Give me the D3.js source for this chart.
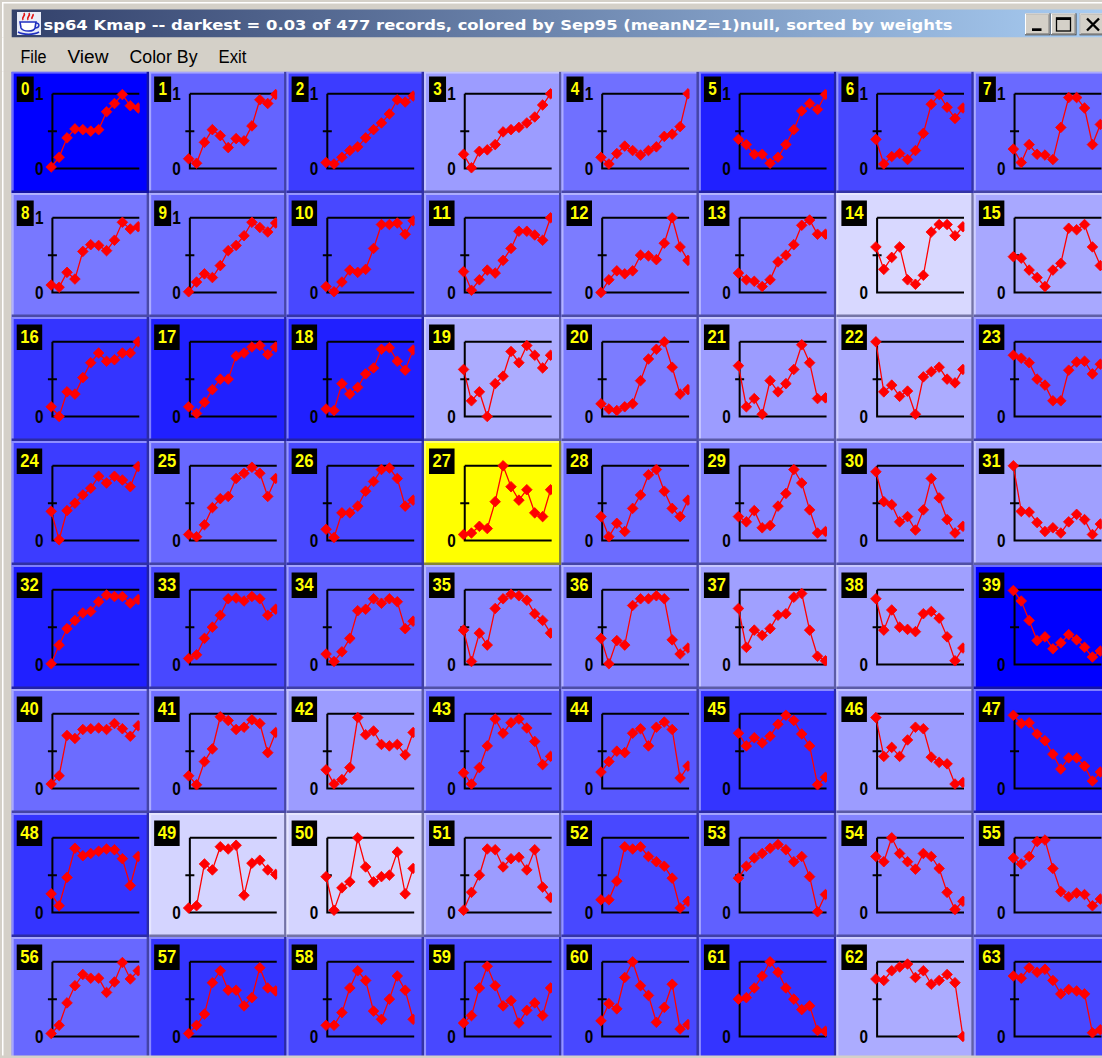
<!DOCTYPE html>
<html><head><meta charset="utf-8">
<script src="https://cdn.jsdelivr.net/npm/d3@7"></script>
<style>html,body{margin:0;padding:0;background:#d4d0c8;overflow:hidden}</style>
</head><body><svg id="c" width="1102" height="1058"></svg>
<script>
// ---------------- data ----------------
const titleText = "sp64 Kmap -- darkest = 0.03 of 477 records, colored by Sep95 (meanNZ=1)null, sorted by weights";
const menuItems = ["File", "View", "Color By", "Exit"];
const months = d3.range(12);            // x categories (12 periods)
const yTickLabels = ["0", "1"];
const yTickValues = [0, 1];
const yMidTick = 0.5;
const selectedCell = 27;
// tint of each cell background (0 = pure blue, 1 = white)
const cellTint = [
  0/255,100/255,60/255,156/255,112/255,32/255,72/255,106/255,
  120/255,112/255,72/255,112/255,124/255,128/255,216/255,168/255,
  52/255,32/255,32/255,172/255,124/255,156/255,172/255,96/255,
  60/255,104/255,72/255,0,108/255,132/255,132/255,160/255,
  32/255,72/255,96/255,136/255,128/255,160/255,160/255,0/255,
  108/255,112/255,156/255,92/255,88/255,52/255,156/255,32/255,
  52/255,212/255,212/255,156/255,72/255,96/255,132/255,112/255,
  104/255,52/255,72/255,72/255,72/255,52/255,172/255,72/255
];
const cellValues = [
[0.02,0.15,0.41,0.53,0.52,0.50,0.52,0.76,0.87,0.99,0.84,0.81],
[0.13,0.07,0.35,0.52,0.44,0.28,0.40,0.37,0.57,0.92,0.87,0.99],
[0.08,0.06,0.15,0.24,0.29,0.41,0.52,0.61,0.73,0.92,0.89,0.97],
[0.19,0.01,0.23,0.25,0.32,0.49,0.52,0.55,0.61,0.69,0.85,1.00],
[0.15,0.06,0.20,0.30,0.24,0.18,0.24,0.29,0.43,0.46,0.56,1.00],
[0.39,0.32,0.19,0.19,0.07,0.15,0.32,0.52,0.77,0.87,0.79,0.99],
[0.39,0.06,0.16,0.20,0.12,0.24,0.47,0.86,0.99,0.82,0.67,0.81],
[0.26,0.08,0.32,0.19,0.18,0.12,0.55,0.95,0.95,0.81,0.32,0.59],
[0.10,0.07,0.27,0.18,0.55,0.64,0.63,0.56,0.70,0.94,0.85,0.88],
[0.01,0.14,0.25,0.20,0.36,0.56,0.63,0.76,0.94,0.87,0.81,0.93],
[0.08,0.01,0.14,0.30,0.27,0.31,0.59,0.91,0.91,0.93,0.78,0.96],
[0.28,0.03,0.17,0.30,0.26,0.43,0.59,0.82,0.82,0.77,0.70,1.00],
[0.00,0.17,0.29,0.25,0.29,0.50,0.49,0.44,0.66,1.00,0.61,0.43],
[0.26,0.17,0.15,0.08,0.17,0.41,0.50,0.64,0.90,0.97,0.78,0.78],
[0.61,0.31,0.47,0.61,0.17,0.11,0.23,0.81,0.91,0.91,0.76,0.88],
[0.48,0.46,0.30,0.20,0.08,0.30,0.39,0.86,0.84,0.91,0.61,0.36],
[0.13,0.00,0.33,0.30,0.52,0.72,0.85,0.74,0.76,0.85,0.85,1.00],
[0.13,0.04,0.19,0.36,0.50,0.50,0.81,0.85,0.93,0.95,0.83,0.93],
[0.10,0.08,0.44,0.30,0.39,0.57,0.65,0.90,0.92,0.74,0.62,0.89],
[0.63,0.21,0.33,0.00,0.44,0.54,0.87,0.72,0.95,0.82,0.65,0.82],
[0.17,0.10,0.08,0.13,0.17,0.48,0.77,0.90,1.00,0.66,0.30,0.36],
[0.68,0.13,0.24,0.03,0.48,0.33,0.44,0.63,0.96,0.72,0.24,0.25],
[1.00,0.33,0.42,0.27,0.34,0.03,0.53,0.60,0.66,0.50,0.45,0.63],
[0.82,0.78,0.72,0.50,0.42,0.21,0.21,0.62,0.73,0.74,0.57,0.70],
[0.39,0.01,0.40,0.50,0.61,0.70,0.86,0.77,0.86,0.81,0.72,0.99],
[0.08,0.05,0.21,0.44,0.56,0.59,0.83,0.90,0.98,0.90,0.59,0.83],
[0.15,0.04,0.37,0.37,0.46,0.66,0.79,0.95,0.97,0.83,0.46,0.54],
[0.08,0.10,0.19,0.16,0.52,1.00,0.72,0.54,0.68,0.37,0.32,0.68],
[0.32,0.05,0.23,0.12,0.43,0.61,0.88,0.95,0.66,0.43,0.32,0.54],
[0.32,0.25,0.40,0.17,0.20,0.46,0.63,0.95,0.77,0.41,0.10,0.12],
[0.92,0.52,0.48,0.25,0.32,0.14,0.41,0.83,0.57,0.28,0.10,0.19],
[1.00,0.39,0.38,0.24,0.12,0.17,0.10,0.25,0.35,0.28,0.08,0.22],
[0.01,0.26,0.48,0.59,0.69,0.71,0.84,0.93,0.91,0.91,0.82,0.87],
[0.08,0.13,0.35,0.50,0.66,0.88,0.89,0.85,0.91,0.88,0.66,0.74],
[0.14,0.04,0.17,0.35,0.72,0.74,0.88,0.82,0.88,0.84,0.48,0.58],
[0.46,0.04,0.42,0.26,0.75,0.88,0.94,0.92,0.86,0.68,0.59,0.42],
[0.35,0.01,0.32,0.26,0.79,0.88,0.88,0.92,0.88,0.33,0.14,0.22],
[0.75,0.23,0.46,0.39,0.48,0.66,0.68,0.90,0.95,0.46,0.11,0.05],
[0.88,0.46,0.73,0.50,0.47,0.44,0.68,0.71,0.62,0.37,0.05,0.22],
[0.99,0.85,0.59,0.32,0.37,0.21,0.29,0.40,0.33,0.23,0.10,0.18],
[0.06,0.17,0.71,0.67,0.79,0.80,0.81,0.79,0.87,0.80,0.70,0.84],
[0.17,0.05,0.36,0.53,0.96,0.91,0.79,0.82,0.92,0.87,0.48,0.75],
[0.25,0.06,0.12,0.28,0.95,0.72,0.77,0.59,0.57,0.59,0.45,0.75],
[0.21,0.06,0.28,0.57,0.93,0.74,0.88,0.93,0.81,0.63,0.32,0.43],
[0.22,0.36,0.50,0.48,0.74,0.80,0.57,0.82,0.89,0.79,0.14,0.30],
[0.74,0.57,0.68,0.61,0.70,0.86,0.98,0.91,0.73,0.57,0.05,0.15],
[0.95,0.43,0.55,0.43,0.65,0.82,0.80,0.42,0.35,0.33,0.06,0.08],
[0.98,0.87,0.88,0.73,0.64,0.46,0.26,0.41,0.41,0.30,0.10,0.22],
[0.25,0.09,0.47,0.86,0.76,0.79,0.82,0.85,0.84,0.72,0.36,0.75],
[0.06,0.09,0.65,0.57,0.88,0.85,0.90,0.23,0.66,0.70,0.57,0.51],
[0.48,0.03,0.33,0.41,1.00,0.61,0.41,0.48,0.50,0.81,0.25,0.59],
[0.03,0.27,0.50,0.85,0.84,0.61,0.72,0.74,0.57,0.84,0.34,0.20],
[0.17,0.17,0.42,0.88,0.85,0.88,0.75,0.68,0.62,0.46,0.06,0.15],
[0.46,0.62,0.73,0.79,0.86,0.91,0.84,0.68,0.75,0.48,0.01,0.24],
[0.75,0.68,1.00,0.79,0.68,0.58,0.79,0.75,0.59,0.27,0.04,0.15],
[0.73,0.65,0.75,0.95,0.97,0.59,0.28,0.21,0.26,0.24,0.09,0.18],
[0.04,0.15,0.45,0.68,0.83,0.78,0.78,0.59,0.73,0.99,0.77,0.88],
[0.04,0.15,0.30,0.72,0.88,0.62,0.62,0.41,0.52,0.92,0.65,0.61],
[0.15,0.15,0.32,0.65,0.88,0.75,0.34,0.23,0.50,0.81,0.62,0.23],
[0.18,0.28,0.65,0.94,0.68,0.41,0.48,0.18,0.35,0.45,0.28,0.65],
[0.21,0.44,0.37,0.79,1.00,0.68,0.55,0.19,0.39,0.70,0.10,0.16],
[0.50,0.52,0.65,0.81,1.00,0.86,0.65,0.50,0.36,0.41,0.08,0.07],
[0.77,0.75,0.88,0.93,0.97,0.79,0.88,0.70,0.75,0.83,0.72,0.00],
[0.81,0.78,0.92,0.86,0.90,0.75,0.57,0.63,0.61,0.57,0.05,0.09]
];

// ---------------- layout ----------------
const W = 1102, H = 1058;
const svg = d3.select("#c");
const nCols = 8;
const colPitch = 137.45, rowPitch = 124, gridX = 11.7, gridY = 69;
const winGray = "#d4d0c8";

svg.append("rect").attr("width", W).attr("height", H).attr("fill", winGray);
svg.append("rect").attr("x", 2).attr("y", 2).attr("width", W).attr("height", 1.5).attr("fill", "#ffffff");
svg.append("rect").attr("x", 2).attr("y", 2).attr("width", 1.5).attr("height", H).attr("fill", "#ffffff");

// title bar
const defs = svg.append("defs");
const grad = defs.append("linearGradient").attr("id", "tbg").attr("x1", "0").attr("x2", "1").attr("y1", "0").attr("y2", "0");
grad.append("stop").attr("offset", "0").attr("stop-color", "#33416b");
grad.append("stop").attr("offset", "1").attr("stop-color", "#a8ccf2");
svg.append("rect").attr("x", 11.7).attr("y", 9.5).attr("width", W - 11.7).attr("height", 28).attr("fill", "url(#tbg)");

// java icon
const ic = svg.append("g").attr("transform", "translate(17,12)");
ic.append("rect").attr("x", 0).attr("y", 0).attr("width", 24).attr("height", 23).attr("fill", "#e8ecf8");
ic.append("path").attr("d", "M6,8 C4,5 9,4 7,1 M11,8 C9,5 14,4 12,1 M15,7 C14,5 17,4 16,2")
  .attr("fill", "none").attr("stroke", "#e01010").attr("stroke-width", 1.6);
ic.append("path").attr("d", "M3,10 L19,10 L18,16 C17,20 6,20 4,16 Z")
  .attr("fill", "#ffffff").attr("stroke", "#2030c0").attr("stroke-width", 1.6);
ic.append("path").attr("d", "M19,11 C23,11 23,16 18,16").attr("fill", "none").attr("stroke", "#2030c0").attr("stroke-width", 1.5);
ic.append("path").attr("d", "M1,20 C6,23 17,23 22,20").attr("fill", "none").attr("stroke", "#2030c0").attr("stroke-width", 1.6);

svg.append("text").text(titleText)
  .attr("x", 43.5).attr("y", 29.5)
  .attr("font-family", "'DejaVu Sans', Verdana, sans-serif").attr("font-weight", "bold")
  .attr("font-size", 14.5).attr("fill", "#ffffff")
  .attr("textLength", 909).attr("lengthAdjust", "spacingAndGlyphs");

// title buttons
function button(x, w) {
  const b = svg.append("g");
  b.append("rect").attr("x", x).attr("y", 13.3).attr("width", w).attr("height", 22).attr("fill", "#404040");
  b.append("rect").attr("x", x).attr("y", 13.3).attr("width", w - 1).attr("height", 21).attr("fill", "#ffffff");
  b.append("rect").attr("x", x + 1).attr("y", 14.3).attr("width", w - 2).attr("height", 20).attr("fill", "#808080");
  b.append("rect").attr("x", x + 1).attr("y", 14.3).attr("width", w - 3).attr("height", 19).attr("fill", winGray);
  return b;
}
button(1025, 25.5).append("rect").attr("x", 1032).attr("y", 28.3).attr("width", 9.5).attr("height", 2.7).attr("fill", "#000");
const mx = button(1051, 25.5);
mx.append("rect").attr("x", 1056.5).attr("y", 18).attr("width", 14).attr("height", 13).attr("fill", "none").attr("stroke", "#000").attr("stroke-width", 1.3);
mx.append("rect").attr("x", 1056).attr("y", 17.5).attr("width", 15).attr("height", 2.5).attr("fill", "#000");
const cx = button(1079.5, 26);
cx.append("path").attr("d", "M1087,18.5 L1099,30.5 M1099,18.5 L1087,30.5").attr("stroke", "#000").attr("stroke-width", 2.4);

// ---------------- cells ----------------
const x = d3.scaleLinear().domain([0, months.length - 1]).range([39.5, 126.5]);
const y = d3.scaleLinear().domain([0, 1]).range([99.5, 24.8]);
const tint = d3.interpolateRgb("#0000ff", "#ffffff");
const axisX = 40.7, plotRight = 127.6;

defs.append("clipPath").attr("id", "plotclip")
  .append("rect").attr("x", 0).attr("y", 0).attr("width", plotRight + 0.4).attr("height", rowPitch);

const line = d3.line().x((d, k) => x(months[k])).y(d => y(d));

cellValues.forEach((vals, i) => {
  const r = Math.floor(i / nCols), c = i % nCols;
  const x0 = gridX + c * colPitch, y0 = gridY + r * rowPitch;
  const g = svg.append("g").attr("transform", `translate(${x0},${y0})`);
  const base = i === selectedCell ? "#ffff00" : tint(cellTint[i]);
  const light = d3.interpolateRgb(base, "#ffffff")(0.42);
  const dark = d3.interpolateRgb(base, "#24245e")(0.55);
  const top = r === 0 ? 2.6 : 0;
  const w = colPitch, h = rowPitch;
  g.append("rect").attr("x", 0).attr("y", top).attr("width", w).attr("height", h - top).attr("fill", base);
  g.append("rect").attr("x", 0).attr("y", top).attr("width", w).attr("height", 2).attr("fill", light);
  g.append("rect").attr("x", 0).attr("y", top).attr("width", 2).attr("height", h - top).attr("fill", light);
  g.append("rect").attr("x", 0).attr("y", h - 2.5).attr("width", w).attr("height", 2.5).attr("fill", dark);
  g.append("rect").attr("x", w - 2.5).attr("y", top).attr("width", 2.5).attr("height", h - top).attr("fill", dark);

  const lab = String(i);

  // axes frame
  g.append("path")
    .attr("d", `M${axisX},${y(1)}H${plotRight}M${axisX - 1},${y(0)}H${plotRight}M${axisX},${y(1)}V${y(0)}M${axisX - 4.5},${y(yMidTick)}H${axisX + 4.5}`)
    .attr("stroke", "#000").attr("stroke-width", 2).attr("fill", "none");
  yTickValues.forEach((tv, k) => {
    // the upper label is hidden behind wide (two-digit) index boxes in the original
    if (tv === 1 && lab.length > 1) return;
    g.append("text").text(yTickLabels[k])
      .attr("x", axisX - 9).attr("y", y(tv)).attr("dy", "0.37em")
      .attr("text-anchor", "end")
      .attr("font-family", "'Liberation Sans', Arial, sans-serif").attr("font-weight", "bold")
      .attr("font-size", 17.5).attr("fill", "#000")
      .attr("textLength", 8.5).attr("lengthAdjust", "spacingAndGlyphs");
  });

  // index label box
  const bw = lab.length === 1 ? 17 : 25.5;
  g.append("rect").attr("x", 5).attr("y", 7.5).attr("width", bw).attr("height", 25.5).attr("fill", "#000");
  g.append("text").text(lab)
    .attr("x", 5 + bw / 2).attr("y", 26.3).attr("text-anchor", "middle")
    .attr("font-family", "'Liberation Sans', Arial, sans-serif").attr("font-weight", "bold")
    .attr("font-size", 17.5).attr("fill", "#ffff00")
    .attr("textLength", lab.length === 1 ? 8.5 : 18.5).attr("lengthAdjust", "spacingAndGlyphs");

  // series
  const pg = g.append("g").attr("clip-path", "url(#plotclip)");
  pg.append("path").datum(vals).attr("d", line)
    .attr("fill", "none").attr("stroke", "#ff0000").attr("stroke-width", 1.3);
  pg.selectAll("path.pt").data(vals).join("path").attr("class", "pt")
    .attr("d", (d, k) => {
      const px = x(months[k]), py = y(d), s = 5.3;
      return `M${px},${py - s}L${px + s},${py}L${px},${py + s}L${px - s},${py}Z`;
    })
    .attr("fill", "#ff0000").attr("stroke", "#ff0000").attr("stroke-width", 0.8).attr("stroke-linejoin", "round");
});

// menu bar (drawn over top edge of first row)
svg.append("rect").attr("x", 0).attr("y", 37.5).attr("width", W).attr("height", 34.1).attr("fill", winGray);
svg.append("rect").attr("x", 2).attr("y", 37.5).attr("width", 1.5).attr("height", 34.1).attr("fill", "#ffffff");
const menuWidths = [26, 41, 68, 28];
let mxPos = 20.5;
menuItems.forEach((m, k) => {
  svg.append("text").text(m).attr("x", mxPos).attr("y", 62.7)
    .attr("font-family", "'Liberation Sans', Arial, sans-serif").attr("font-size", 17.5).attr("fill", "#000")
    .attr("textLength", menuWidths[k]).attr("lengthAdjust", "spacingAndGlyphs");
  mxPos += menuWidths[k] + 21;
});
// bottom window edge
svg.append("rect").attr("x", 0).attr("y", 1055.5).attr("width", W).attr("height", 3).attr("fill", winGray);
</script>
</body></html>
